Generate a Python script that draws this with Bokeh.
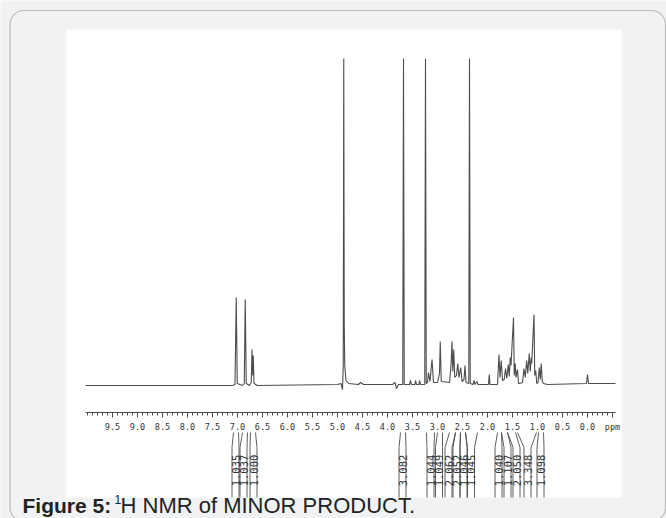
import math
from bokeh.plotting import figure
from bokeh.models import Range1d, LinearAxis, FixedTicker, BoxAnnotation
from bokeh.embed import file_html
from bokeh.resources import INLINE
from bokeh.core.properties import value

# ---------------- data ----------------
trace_ppm = [10.04, 7.10, 7.05, 7.025, 7.005, 6.90, 6.865, 6.845, 6.825, 6.76, 6.725, 6.71, 6.695, 6.685, 6.67,
             6.60, 5.00, 4.93, 4.90, 4.885, 4.875, 4.865, 4.855, 4.83, 4.78, 4.58, 4.54, 4.48,
             3.90, 3.85, 3.82, 3.78, 3.695, 3.68, 3.665, 3.56, 3.54, 3.52, 3.45, 3.44, 3.42, 3.37, 3.36, 3.34,
             3.255, 3.24, 3.225, 3.20, 3.18, 3.15, 3.11, 3.08, 3.00, 2.96, 2.945, 2.925,
             2.76, 2.73, 2.71, 2.695, 2.675, 2.655, 2.62, 2.595, 2.57, 2.535, 2.51, 2.47, 2.45, 2.43,
             2.375, 2.36, 2.345, 2.29, 2.27, 2.25, 2.21, 2.19, 1.98, 1.965, 1.95,
             1.80, 1.77, 1.75, 1.725, 1.70, 1.665, 1.64, 1.615, 1.585, 1.565, 1.545, 1.53, 1.48, 1.465,
             1.445, 1.43, 1.40, 1.38, 1.36, 1.30, 1.27, 1.245, 1.215, 1.195, 1.165, 1.145, 1.125, 1.115,
             1.07, 1.055, 1.035, 1.015, 0.99, 0.965, 0.945, 0.925, 0.905, 0.88, 0.80,
             0.02, 0.00, -0.02, -0.56]
trace_int = [0, 0, 1, 88, 2, 0, 2, 86, 2, 0, 3, 36, 10, 30, 2,
             0, 1, 2, -4, 20, 327, 60, 20, 5, 2, 1, 3, 1,
             1, 3, -3, 1, 1, 327, 1, 1, 5, 1, 1, 5, 1, 1, 5, 1,
             1, 327, 2, 3, 13, 4, 26, 3, 3, 12, 44, 4,
             3, 20, 44, 14, 36, 8, 10, 22, 8, 18, 4, 6, 20, 3,
             2, 327, 2, 1, 5, 1, 4, 1, 1, 11, 1,
             1, 31, 8, 25, 5, 6, 17, 7, 21, 9, 28, 20, 68, 10,
             22, 8, 16, 2, 2, 3, 17, 8, 25, 12, 32, 14, 28, 22,
             71, 10, 15, 2, 3, 18, 6, 22, 4, 2, 1,
             2, 11, 2, 2]

tick_ppm = [9.5, 9.0, 8.5, 8.0, 7.5, 7.0, 6.5, 6.0, 5.5, 5.0, 4.5, 4.0, 3.5, 3.0, 2.5, 2.0, 1.5, 1.0, 0.5, 0.0, -0.5]
tick_labels = ["9.5", "9.0", "8.5", "8.0", "7.5", "7.0", "6.5", "6.0", "5.5", "5.0", "4.5", "4.0",
               "3.5", "3.0", "2.5", "2.0", "1.5", "1.0", "0.5", "0.0", "ppm"]

integral_ppm = [7.04, 6.88, 6.68, 3.70, 3.14, 2.97, 2.78, 2.62, 2.48, 2.33, 1.78, 1.60, 1.42, 1.20, 0.94]
integral_hi = [7.08, 6.90, 6.74, 3.74, 3.22, 3.00, 2.76, 2.64, 2.54, 2.44, 1.80, 1.72, 1.60, 1.40, 0.98]
integral_lo = [6.98, 6.80, 6.64, 3.64, 3.06, 2.90, 2.64, 2.54, 2.44, 2.20, 1.72, 1.60, 1.44, 1.02, 0.88]
integral_text = ["1.035", "1.037", "1.000", "3.082", "1.044", "1.049", "2.062", "2.052", "1.046", "1.045",
                 "1.040", "1.107", "2.050", "3.348", "1.098"]

caption_bold = "Figure 5:"
caption_sup = "1"
caption_rest = "H NMR of MINOR PRODUCT."

# ---------------- layout helpers (screen px -> data) ----------------
W, H = 666, 518
PPM0_X, PX_PER_PPM = 587.0, 50.0     # 0.0 ppm at x=587 px, 50 px per ppm
BASE_Y = 385.0                       # baseline at y=385 px


def X(px):
    return (PPM0_X - px) / PX_PER_PPM


def Y(py):
    return BASE_Y - py


p = figure(width=W, height=H, output_backend="svg", toolbar_location=None,
           x_range=Range1d(X(0), X(W)), y_range=Range1d(Y(H), Y(0)),
           x_axis_type=None, y_axis_type=None,
           min_border_left=0, min_border_right=0, min_border_top=0, min_border_bottom=0)
p.grid.visible = False
p.outline_line_color = None
p.background_fill_color = "#f1f2f4"
p.border_fill_color = "#f1f2f4"

INK = "#4d4d4d"

# white scan panel and rounded frame
p.add_layout(BoxAnnotation(left=X(66), right=X(621), top=Y(29), bottom=Y(497),
                           fill_color="white", fill_alpha=1, line_color=None, level="underlay"))
p.add_layout(BoxAnnotation(left=X(9.5), right=X(665), top=Y(10), bottom=Y(521),
                           fill_alpha=0, line_color="#3a3a3a", line_width=1.2, border_radius=14,
                           level="underlay"))

# spectrum
p.line(trace_ppm, trace_int, line_color=INK, line_width=1.1)

# axis
ax = LinearAxis(fixed_location=Y(412), bounds=(-0.56, 10.04),
                ticker=FixedTicker(ticks=tick_ppm,
                                   minor_ticks=[round(10.0 - 0.1 * i, 1) for i in range(106)]),
                major_label_overrides={t: l for t, l in zip(tick_ppm, tick_labels)},
                axis_line_color=INK, axis_line_width=1.2,
                major_tick_in=0, major_tick_out=5, major_tick_line_color=INK,
                minor_tick_in=0, minor_tick_out=3, minor_tick_line_color=INK,
                major_label_text_font="DejaVu Sans Mono", major_label_text_font_size="8.5px",
                major_label_text_color="#333333", major_label_standoff=4)
p.add_layout(ax, "below")

# integral brackets
half = 3.5 / PX_PER_PPM
xs, ys = [], []
for c, hi, lo in zip(integral_ppm, integral_hi, integral_lo):
    xs.append([hi, c + half, c + half]); ys.append([Y(432), Y(447), Y(497)])
    xs.append([lo, c - half, c - half]); ys.append([Y(432), Y(447), Y(497)])
p.multi_line(xs, ys, line_color=INK, line_width=0.9)
p.text(x=integral_ppm, y=[Y(470)] * len(integral_ppm), text=integral_text, angle=math.pi / 2,
       text_align="center", text_baseline="middle", text_font=value("DejaVu Sans Mono"),
       text_font_size="10.5px", text_color="#333333")

# caption
p.text(x=[X(22)], y=[Y(505)], text=[caption_bold], text_font=value("Liberation Sans"),
       text_font_style="bold", text_font_size="21px", text_color="#222222", text_baseline="middle")
p.text(x=[X(114)], y=[Y(499)], text=[caption_sup], text_font=value("Liberation Sans"),
       text_font_size="12px", text_color="#222222", text_baseline="middle")
p.text(x=[X(120)], y=[Y(505)], text=[caption_rest], text_font=value("Liberation Sans"),
       text_font_size="22px", text_color="#222222", text_baseline="middle")

open("out.html", "w").write(file_html(p, INLINE))
